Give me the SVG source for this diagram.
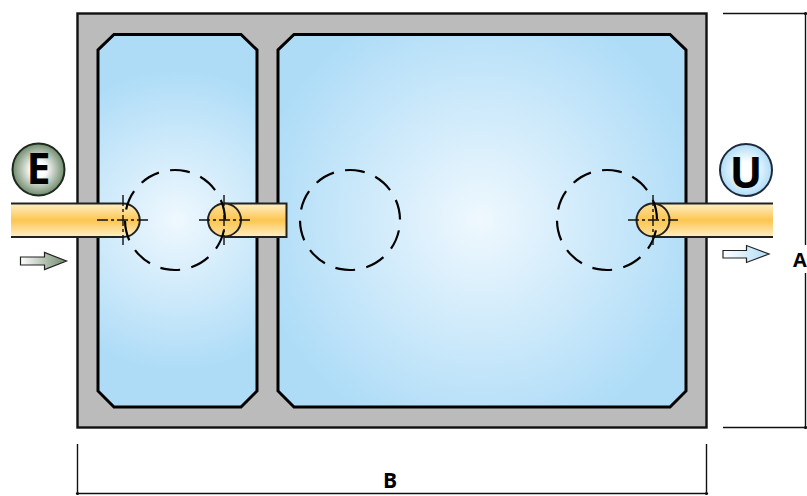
<svg xmlns="http://www.w3.org/2000/svg" width="807" height="496" viewBox="0 0 807 496">
<style>
.ch{stroke:#000;stroke-width:3;stroke-linejoin:miter}
.pipe{fill:url(#pipeG);stroke:none}
.edge{fill:none;stroke:#222;stroke-width:2}
.dash{fill:none;stroke:#000;stroke-width:2.2;stroke-dasharray:20 11.4}
.cl{fill:none;stroke:#111;stroke-width:1.4;stroke-dasharray:11 3 3 3}
.dim{fill:none;stroke:#111;stroke-width:1.4}
.lbl{font-family:"Open Sans",sans-serif;font-weight:700;fill:#000}
</style>
<defs>
<radialGradient id="c1" gradientUnits="userSpaceOnUse" cx="177" cy="220" r="150"><stop offset="0" stop-color="#eff8fe"/><stop offset="1" stop-color="#aedcf7"/></radialGradient>
<radialGradient id="c2" gradientUnits="userSpaceOnUse" cx="480" cy="220" r="225"><stop offset="0" stop-color="#eff8fe"/><stop offset="1" stop-color="#aedcf7"/></radialGradient>
<linearGradient id="pipeG" x1="0" y1="0" x2="0" y2="1"><stop offset="0" stop-color="#fff0c8"/><stop offset=".5" stop-color="#fcc650"/><stop offset="1" stop-color="#fff0c8"/></linearGradient>
<linearGradient id="ballG" x1="0" y1="0" x2="0" y2="1"><stop offset="0" stop-color="#fddf9a"/><stop offset=".5" stop-color="#fcc650"/><stop offset="1" stop-color="#fddf9a"/></linearGradient>
<radialGradient id="eG"><stop offset="0" stop-color="#fff"/><stop offset=".3" stop-color="#fff"/><stop offset="1" stop-color="#6f8a6c"/></radialGradient>
<radialGradient id="uG"><stop offset="0" stop-color="#fff"/><stop offset=".3" stop-color="#fff"/><stop offset="1" stop-color="#aedcf7"/></radialGradient>
<linearGradient id="eA"><stop offset="0" stop-color="#fff"/><stop offset="1" stop-color="#6f8a6c"/></linearGradient>
<linearGradient id="uA"><stop offset="0" stop-color="#fff"/><stop offset="1" stop-color="#aedcf7"/></linearGradient>
</defs>
<g id="tank">
<rect x="77.5" y="13.5" width="629" height="414" fill="#bbb" stroke="#111" stroke-width="2.4"/>
<polygon class="ch" fill="url(#c1)" points="114,34.5 241,34.5 257,50 257,391 241,407 114,407 98,391 98,50"/>
<polygon class="ch" fill="url(#c2)" points="294,34.5 670,34.5 686,50 686,391 670,407 294,407 278,391 278,50"/>
</g>
<g id="pipes">
<path class="pipe" d="M11,203.5H123A16.5,16.5 0 0 1 123,237H11Z"/>
<path class="edge" d="M11,203.5H123A16.5,16.5 0 0 1 123,237H11"/>
<path class="pipe" d="M224.5,203.5H286.5V237H224.5Z"/>
<path class="edge" d="M224.5,203.5H286.5V237H224.5"/>
<circle cx="224.5" cy="220" r="16.5" fill="url(#ballG)" stroke="#222" stroke-width="2"/>
<path class="pipe" d="M653,203.5H773V237H653Z"/>
<path class="edge" d="M773,203.5H653M653,237H773"/>
<circle cx="653" cy="220" r="16.5" fill="url(#ballG)" stroke="#222" stroke-width="2"/>
</g>
<g id="hidden">
<circle class="dash" cx="175" cy="220" r="50" transform="rotate(12 175 220)"/>
<circle class="dash" cx="350" cy="220" r="50" transform="rotate(12 350 220)"/>
<circle class="dash" cx="607" cy="220" r="50" transform="rotate(12 607 220)"/>
<path class="cl" d="M97,220H148M123,195V245M199,220H250M224,195V245M628,220H678M653,195V245"/>
</g>
<g id="E"><circle cx="38.5" cy="169.5" r="26" fill="url(#eG)" stroke="#1d2a1d" stroke-width="2"/><text class="lbl" x="38.5" y="184" font-size="43" text-anchor="middle">E</text></g>
<g id="U"><circle cx="746" cy="170" r="26" fill="url(#uG)" stroke="#1d2a3d" stroke-width="2"/><text class="lbl" x="746" y="188" font-size="43" text-anchor="middle">U</text></g>
<g id="arrows">
<polygon points="20.5,257 44.5,257 44.5,252.5 66.5,261 44.5,269.5 44.5,265 20.5,265" fill="url(#eA)" stroke="#222" stroke-width="1.2"/>
<polygon points="723,250.5 746.5,250.5 746.5,245.5 769,254 746.5,262.5 746.5,258 723,258" fill="url(#uA)" stroke="#222" stroke-width="1.2"/>
</g>
<g id="dimensions">
<path class="dim" d="M723,13.5H806M723,427.5H806M805.5,13V245M805.5,273V428M77.5,444V493.5H706.5V444"/>
<circle cx="805.5" cy="13.5" r="1.6" fill="#111"/><circle cx="805.5" cy="427.5" r="1.6" fill="#111"/><circle cx="77.5" cy="493.5" r="1.6" fill="#111"/><circle cx="706.5" cy="493.5" r="1.6" fill="#111"/>
<text class="lbl" x="793" y="267" font-size="20">A</text>
<text class="lbl" x="390" y="488" font-size="21" text-anchor="middle">B</text>
</g>
</svg>
